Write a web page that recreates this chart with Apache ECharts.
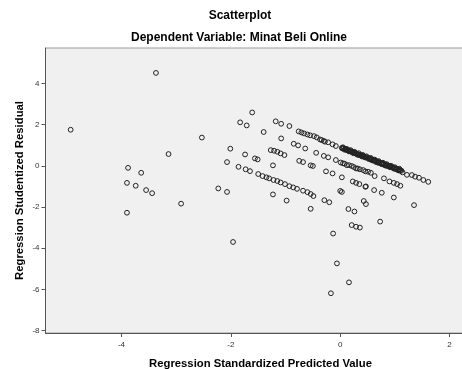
<!DOCTYPE html>
<html><head><meta charset="utf-8">
<script src="https://cdn.jsdelivr.net/npm/echarts@6/dist/echarts.min.js"></script>
<style>html,body{margin:0;padding:0;background:#fff}#c{width:462px;height:369px}</style>
</head><body><div id="c"></div>
<script>
var titleText = 'Scatterplot';
var subtitleText = 'Dependent Variable: Minat Beli Online';
var xName = 'Regression Standardized Predicted Value';
var yName = 'Regression Studentized Residual';
var xTicks = [-4, -2, 0, 2];
var yTicks = [-8, -6, -4, -2, 0, 2, 4];

var leftPoints = [[-4.93,1.75],[-3.37,4.51],[-2.53,1.37],[-3.14,0.57],[-3.88,-0.10],[-3.64,-0.34],[-3.90,-0.83],[-3.74,-0.97],[-3.55,-1.18],[-3.44,-1.33],[-2.91,-1.84],[-3.90,-2.28]];
var bandA = [[-1.61,2.59],[-1.18,2.16],[-1.08,2.04],[-0.93,1.93],
 [-0.76,1.67],[-0.71,1.62],[-0.66,1.57],[-0.60,1.52],[-0.55,1.48],[-0.48,1.44],[-0.43,1.38],[-0.37,1.28],[-0.34,1.25],[-0.30,1.21],[-0.28,1.17],[-0.22,1.14],[-0.14,1.04],[-0.08,0.96],
 [0.03,0.87],[0.06,0.85],[0.09,0.82],[0.11,0.78],[0.14,0.76],[0.17,0.73],[0.20,0.70],[0.22,0.66],[0.25,0.65],[0.28,0.61],[0.31,0.58],[0.33,0.55],[0.36,0.53],[0.39,0.50],[0.42,0.48],[0.44,0.44],[0.47,0.42],[0.50,0.39],[0.53,0.36],[0.55,0.33],[0.58,0.31],[0.61,0.28],[0.64,0.25],[0.66,0.22],[0.69,0.19],[0.72,0.17],[0.75,0.13],[0.77,0.11],[0.80,0.09],[0.83,0.05],[0.86,0.03],[0.89,-0.01],[0.92,-0.03],[0.95,-0.06],[0.98,-0.10],[1.01,-0.12],[1.04,-0.15],[1.07,-0.18],[1.10,-0.21],
 [0.05,0.90],[0.12,0.82],[0.19,0.76],[0.26,0.68],[0.34,0.61],[0.41,0.53],[0.48,0.46],[0.56,0.38],[0.63,0.30],[0.70,0.23],[0.78,0.15],[0.85,0.08],[0.93,0.00],[1.00,-0.07],[1.08,-0.14],
 [0.08,0.78],[0.16,0.70],[0.24,0.61],[0.32,0.53],[0.40,0.45],[0.52,0.33],[0.60,0.25],[0.68,0.16],[0.76,0.08],[0.84,0.00],[0.91,-0.07],[0.99,-0.15],[1.06,-0.22],
 [0.04,0.84],[0.10,0.79],[0.15,0.73],[0.21,0.67],[0.27,0.63],[0.30,0.57],[0.37,0.50],[0.43,0.45],[0.46,0.40],[0.54,0.35],[0.57,0.28],[0.62,0.26],[0.65,0.19],[0.71,0.14],[0.74,0.11],[0.79,0.06],[0.82,0.02],[0.87,-0.01],[0.90,-0.04],[0.96,-0.10],[1.03,-0.17],[1.09,-0.24],[1.12,-0.24],
 [1.14,-0.32],[1.22,-0.44],[1.31,-0.45],[1.37,-0.53],[1.44,-0.58],[1.52,-0.69],[1.61,-0.78]];
var bandB = [[-1.83,2.11],[-1.71,1.96],[-1.40,1.64],[-1.08,1.33],[-0.85,1.07],[-0.77,0.99],[-0.64,0.84],[-0.44,0.63],[-0.30,0.48],[-0.22,0.41],[-0.08,0.28],[0.01,0.16],
 [0.05,0.12],[0.08,0.10],[0.12,0.03],[0.16,0.03],[0.21,-0.01],[0.25,-0.06],[0.29,-0.13],[0.32,-0.13],[0.36,-0.17],[0.42,-0.21],[0.46,-0.27],[0.51,-0.29],[0.56,-0.34],[0.63,-0.50],
 [0.80,-0.61],[0.90,-0.76],[0.98,-0.83],[1.04,-0.89],[1.10,-0.97]];
var bandC = [[-1.27,0.76],[-1.21,0.73],[-1.15,0.68],[-1.09,0.60],[-1.02,0.52],[-0.75,0.24],[-0.68,0.18],[-0.54,0.02],[-0.50,-0.01],[-0.26,-0.27],[-0.14,-0.37],[0.03,-0.56],[0.23,-0.76],[0.29,-0.83],[0.35,-0.89],[0.46,-1.02],[0.47,-1.00],[0.62,-1.18],[0.76,-1.31],[0.98,-1.54],[1.35,-1.91]];
var bandD = [[-2.01,0.83],[-1.74,0.55],[-1.56,0.36],[-1.51,0.31],[-1.23,0.02],[0.00,-1.22],[0.03,-1.27],[0.43,-1.71],[0.47,-1.86]];
var bandE = [[-2.07,0.18],[-1.86,-0.05],[-1.73,-0.17],[-1.65,-0.26],[-1.50,-0.40],[-1.42,-0.50],[-1.35,-0.56],[-1.30,-0.61],[-1.22,-0.69],[-1.15,-0.74],[-1.09,-0.81],[-1.01,-0.89],[-0.93,-0.99],[-0.86,-1.05],[-0.79,-1.12],[-0.68,-1.21],[-0.60,-1.28],[-0.54,-1.37],[-0.49,-1.47],[-0.29,-1.67],[-0.20,-1.77],[0.15,-2.10],[0.26,-2.22],[0.73,-2.71]];
var bandF = [[-1.23,-1.39],[-0.98,-1.69],[-0.54,-2.09],[0.21,-2.88],[0.29,-2.96],[0.36,-3.00]];
var lowPoints = [[-2.23,-1.10],[-2.07,-1.27],[-0.13,-3.29],[-1.96,-3.70],[-0.06,-4.74],[0.16,-5.66],[-0.17,-6.19]];

var allPoints = [].concat(leftPoints, bandA, bandB, bandC, bandD, bandE, bandF, lowPoints);
var chart = echarts.init(document.getElementById('c'), null, {renderer: 'canvas'});
var axisFont = 'Arial, "Liberation Sans", sans-serif';
chart.setOption({
  animation: false,
  backgroundColor: '#ffffff',
  graphic: [
    {type: 'text', x: 240, y: 16, style: {text: titleText, font: 'bold 12px ' + axisFont, fill: '#000', textAlign: 'center', textVerticalAlign: 'middle'}},
    {type: 'text', x: 239, y: 38, style: {text: subtitleText, font: 'bold 12px ' + axisFont, fill: '#000', textAlign: 'center', textVerticalAlign: 'middle'}}
  ],
  grid: {left: 45.5, width: 430, top: 48, height: 285, containLabel: false, outerBoundsMode: 'none', show: true, backgroundColor: '#f0f0f0', borderColor: '#9a9a9a', borderWidth: 1},
  xAxis: {
    type: 'value', min: -5.39, max: 2.474,
    name: xName, nameLocation: 'middle', nameGap: 25, nameMoveOverlap: false,
    nameTextStyle: {fontFamily: axisFont, fontWeight: 'bold', fontSize: 11.3, color: '#000'},
    splitLine: {show: false},
    axisLine: {show: true, onZero: false, lineStyle: {color: '#555', width: 1}},
    axisTick: {show: true, length: 4, customValues: xTicks, lineStyle: {color: '#555'}},
    axisLabel: {customValues: xTicks, margin: 8, fontSize: 8, fontFamily: axisFont, color: '#333'}
  },
  yAxis: {
    type: 'value', min: -8.12, max: 5.72,
    name: yName, nameLocation: 'middle', nameGap: 20, nameMoveOverlap: false,
    nameTextStyle: {fontFamily: axisFont, fontWeight: 'bold', fontSize: 11.3, color: '#000'},
    splitLine: {show: false},
    axisLine: {show: true, onZero: false, lineStyle: {color: '#555', width: 1}},
    axisTick: {show: true, length: 4, customValues: yTicks, lineStyle: {color: '#555'}},
    axisLabel: {customValues: yTicks, margin: 6, fontSize: 8, fontFamily: axisFont, color: '#333'}
  },
  series: [{
    type: 'scatter', data: allPoints, symbol: 'circle', symbolSize: 4.8,
    itemStyle: {color: 'rgba(0,0,0,0)', borderColor: '#222', borderWidth: 1, opacity: 1},
    emphasis: {disabled: true}
  }]
});
</script></body></html>
